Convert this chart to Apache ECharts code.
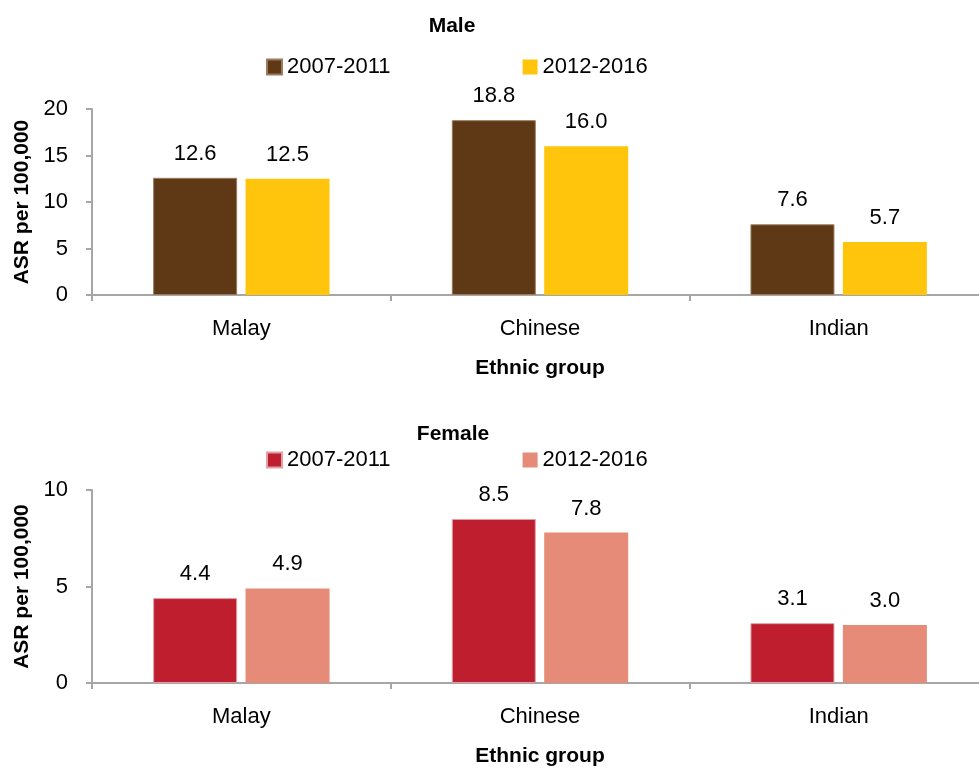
<!DOCTYPE html>
<html>
<head>
<meta charset="utf-8">
<script src="https://cdn.jsdelivr.net/npm/echarts@6/dist/echarts.min.js"></script>
<style>html,body{margin:0;padding:0;background:#fff;}#main{width:979px;height:769px;}</style>
</head>
<body>
<div id="main"></div>
<script>
const categories = ['Malay', 'Chinese', 'Indian'];
const periods = ['2007-2011', '2012-2016'];
const male2007 = [12.6, 18.8, 7.6];
const male2012 = [12.5, 16.0, 5.7];
const female2007 = [4.4, 8.5, 3.1];
const female2012 = [4.9, 7.8, 3.0];
const maleTicks = { min: 0, max: 20, interval: 5 };
const femaleTicks = { min: 0, max: 10, interval: 5 };

const FONT = '"Liberation Sans", Arial, sans-serif';
const FS = 22;
const FSB = 21;
const axisGray = '#a6a6a6';

const chart = echarts.init(document.getElementById('main'), null, { renderer: 'canvas' });

function xAx(gridIndex) {
  return {
    type: 'category', gridIndex, data: categories,
    axisLine: { lineStyle: { color: axisGray, width: 2 } },
    axisTick: { show: true, length: 6, lineStyle: { color: axisGray, width: 2 } },
    axisLabel: { color: '#000', fontFamily: FONT, fontSize: FS, margin: 23 },
    name: 'Ethnic group', nameLocation: 'middle', nameGap: 63,
    nameTextStyle: { color: '#000', fontFamily: FONT, fontSize: FSB, fontWeight: 'bold' }
  };
}
function yAx(gridIndex, t) {
  return {
    type: 'value', gridIndex, min: t.min, max: t.max, interval: t.interval,
    axisLine: { show: true, lineStyle: { color: axisGray, width: 2 } },
    axisTick: { show: true, length: 6, lineStyle: { color: axisGray, width: 2 } },
    splitLine: { show: false },
    axisLabel: { color: '#000', fontFamily: FONT, fontSize: FS, margin: 24 },
    name: 'ASR per 100,000', nameLocation: 'middle', nameGap: 58,
    nameTextStyle: { color: '#000', fontFamily: FONT, fontSize: FSB, fontWeight: 'bold' }
  };
}
function bar(name, xi, data, color, border) {
  return {
    type: 'bar', name, xAxisIndex: xi, yAxisIndex: xi, data,
    barWidth: 84, barGap: '10%',
    itemStyle: { color, borderColor: border, borderWidth: border ? 1 : 0 },
    label: { show: true, position: 'top', distance: 13, color: '#000', fontFamily: FONT, fontSize: FS,
             formatter: p => p.value.toFixed(1) }
  };
}
const legendBase = {
  orient: 'horizontal', itemWidth: 15, itemHeight: 15, itemGap: 132,
  icon: 'rect', textStyle: { color: '#000', fontFamily: FONT, fontSize: FS },
  formatter: n => n.replace(/^(Male|Female) /, '')
};

chart.setOption({
  animation: false,
  backgroundColor: '#fff',
  title: [
    { text: 'Male', left: 447, top: 11, textAlign: 'center',
      textStyle: { fontFamily: FONT, fontSize: FSB, fontWeight: 'bold', color: '#000' } },
    { text: 'Female', left: 448, top: 419, textAlign: 'center',
      textStyle: { fontFamily: FONT, fontSize: FSB, fontWeight: 'bold', color: '#000' } }
  ],
  legend: [
    Object.assign({}, legendBase, { left: 261, top: 51, data: ['Male ' + periods[0], 'Male ' + periods[1]] }),
    Object.assign({}, legendBase, { left: 261, top: 444, data: ['Female ' + periods[0], 'Female ' + periods[1]] })
  ],
  grid: [
    { left: 92, top: 109, width: 896, height: 186, outerBoundsMode: 'none' },
    { left: 92, top: 490, width: 896, height: 193, outerBoundsMode: 'none' }
  ],
  xAxis: [xAx(0), xAx(1)],
  yAxis: [yAx(0, maleTicks), yAx(1, femaleTicks)],
  series: [
    bar('Male ' + periods[0], 0, male2007, '#5f3915', '#9a7b5e'),
    bar('Male ' + periods[1], 0, male2012, '#ffc50d', null),
    bar('Female ' + periods[0], 1, female2007, '#be1e2d', '#e0a0a6'),
    bar('Female ' + periods[1], 1, female2012, '#e68b78', null)
  ]
});
</script>
</body>
</html>
